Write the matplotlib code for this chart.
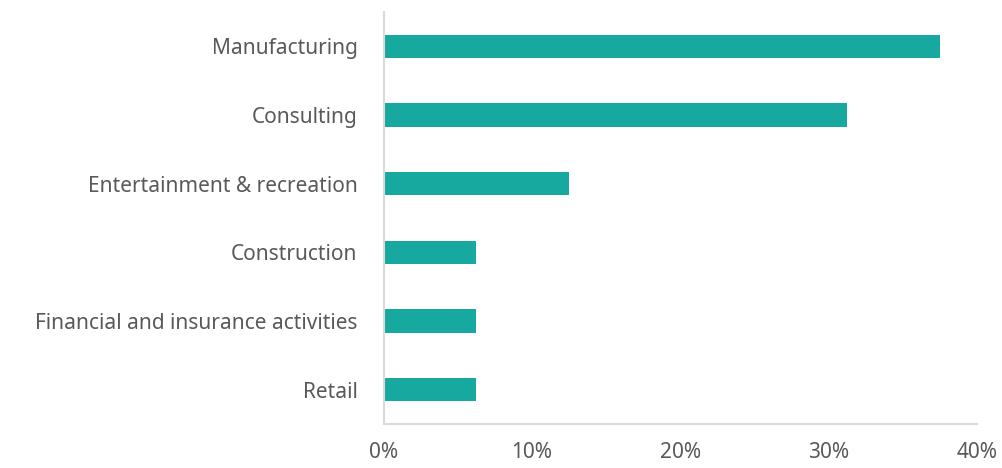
import matplotlib
matplotlib.use('Agg')
import matplotlib.pyplot as plt
from matplotlib.ticker import PercentFormatter

# Datos
sectores = ['Manufacturing', 'Consulting', 'Entertainment & recreation',
            'Construction', 'Financial and insurance activities', 'Retail']
porcentajes = [37.5, 31.25, 12.5, 6.25, 6.25, 6.25]
ticks_x = [0, 10, 20, 30, 40]

color_barra = '#17A8A0'
color_texto = '#595959'
color_eje = '#D9D9D9'

plt.rcParams['font.family'] = ['Noto Sans', 'DejaVu Sans']

fig = plt.figure(figsize=(10.02, 4.68), dpi=100)
ax = fig.add_axes([0.383, 0.094, 0.592, 0.88])

pos = list(range(len(sectores)))
ax.barh(pos, porcentajes, height=0.34, color=color_barra)
ax.set_yticks(pos)
ax.set_yticklabels(sectores)
ax.set_ylim(len(sectores) - 0.5, -0.5)

ax.set_xlim(0, 40)
ax.set_xticks(ticks_x)
ax.xaxis.set_major_formatter(PercentFormatter(decimals=0))

for s in ['top', 'right']:
    ax.spines[s].set_visible(False)
for s in ['left', 'bottom']:
    ax.spines[s].set_color(color_eje)
    ax.spines[s].set_linewidth(1.5)

ax.tick_params(axis='both', length=0, labelsize=15, colors=color_texto)
ax.tick_params(axis='y', pad=19)
ax.tick_params(axis='x', pad=13)

fig.savefig('out.png', dpi=100)
